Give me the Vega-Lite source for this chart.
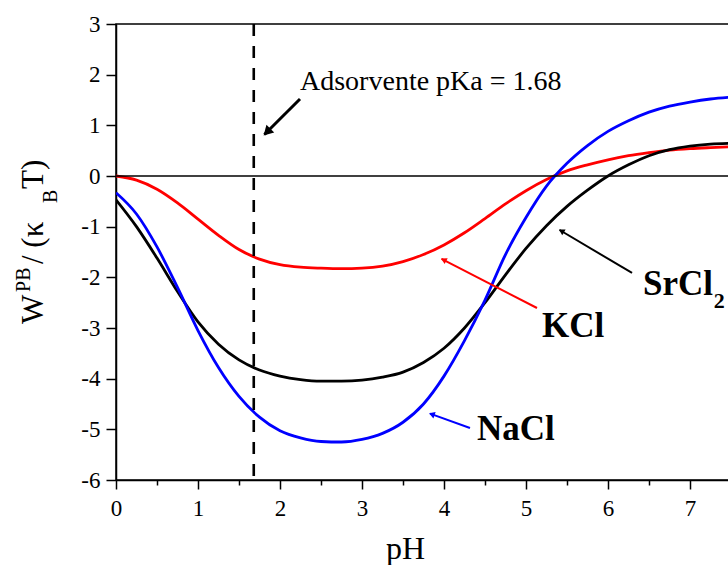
{
  "$schema": "https://vega.github.io/schema/vega-lite/v6.json",
  "width": 620,
  "height": 456,
  "autosize": {"type": "none"},
  "padding": {"left": 116, "top": 24, "right": 0, "bottom": 85},
  "config": {
    "view": {"stroke": "black", "strokeWidth": 1.5},
    "font": "Liberation Serif",
    "text": {"font": "Liberation Serif"},
    "axis": {
      "labelFont": "Liberation Serif", "labelFontSize": 23, "labelColor": "black",
      "titleFont": "Liberation Serif", "titleFontSize": 32, "titleFontWeight": "normal", "titleColor": "black",
      "grid": false, "tickColor": "black", "tickWidth": 1.5, "domainColor": "black", "domainWidth": 1.5,
      "labelOverlap": false, "labelFlush": false
    }
  },
  "datasets": {
    "curves": [
      {"salt": "KCl", "pH": 0, "W": 0.0},
      {"salt": "KCl", "pH": 0.25, "W": -0.08},
      {"salt": "KCl", "pH": 0.5, "W": -0.26},
      {"salt": "KCl", "pH": 0.75, "W": -0.53},
      {"salt": "KCl", "pH": 1.0, "W": -0.85},
      {"salt": "KCl", "pH": 1.25, "W": -1.17},
      {"salt": "KCl", "pH": 1.5, "W": -1.45},
      {"salt": "KCl", "pH": 1.75, "W": -1.64},
      {"salt": "KCl", "pH": 2.0, "W": -1.75},
      {"salt": "KCl", "pH": 2.25, "W": -1.8},
      {"salt": "KCl", "pH": 2.5, "W": -1.82},
      {"salt": "KCl", "pH": 2.75, "W": -1.83},
      {"salt": "KCl", "pH": 3.0, "W": -1.82},
      {"salt": "KCl", "pH": 3.25, "W": -1.78},
      {"salt": "KCl", "pH": 3.5, "W": -1.69},
      {"salt": "KCl", "pH": 3.75, "W": -1.55},
      {"salt": "KCl", "pH": 4.0, "W": -1.36},
      {"salt": "KCl", "pH": 4.25, "W": -1.12},
      {"salt": "KCl", "pH": 4.5, "W": -0.84},
      {"salt": "KCl", "pH": 4.75, "W": -0.55},
      {"salt": "KCl", "pH": 5.0, "W": -0.29},
      {"salt": "KCl", "pH": 5.25, "W": -0.07},
      {"salt": "KCl", "pH": 5.5, "W": 0.1},
      {"salt": "KCl", "pH": 5.75, "W": 0.22},
      {"salt": "KCl", "pH": 6.0, "W": 0.32},
      {"salt": "KCl", "pH": 6.25, "W": 0.4},
      {"salt": "KCl", "pH": 6.5, "W": 0.46},
      {"salt": "KCl", "pH": 6.75, "W": 0.51},
      {"salt": "KCl", "pH": 7.0, "W": 0.54},
      {"salt": "KCl", "pH": 7.25, "W": 0.56},
      {"salt": "KCl", "pH": 7.56, "W": 0.58},
      {"salt": "SrCl2", "pH": 0, "W": -0.47},
      {"salt": "SrCl2", "pH": 0.25, "W": -1.0},
      {"salt": "SrCl2", "pH": 0.5, "W": -1.62},
      {"salt": "SrCl2", "pH": 0.75, "W": -2.28},
      {"salt": "SrCl2", "pH": 1.0, "W": -2.88},
      {"salt": "SrCl2", "pH": 1.25, "W": -3.32},
      {"salt": "SrCl2", "pH": 1.5, "W": -3.63},
      {"salt": "SrCl2", "pH": 1.75, "W": -3.83},
      {"salt": "SrCl2", "pH": 2.0, "W": -3.95},
      {"salt": "SrCl2", "pH": 2.25, "W": -4.02},
      {"salt": "SrCl2", "pH": 2.5, "W": -4.05},
      {"salt": "SrCl2", "pH": 2.75, "W": -4.05},
      {"salt": "SrCl2", "pH": 3.0, "W": -4.03},
      {"salt": "SrCl2", "pH": 3.25, "W": -3.97},
      {"salt": "SrCl2", "pH": 3.5, "W": -3.87},
      {"salt": "SrCl2", "pH": 3.75, "W": -3.68},
      {"salt": "SrCl2", "pH": 4.0, "W": -3.4},
      {"salt": "SrCl2", "pH": 4.25, "W": -3.0},
      {"salt": "SrCl2", "pH": 4.5, "W": -2.5},
      {"salt": "SrCl2", "pH": 4.75, "W": -1.95},
      {"salt": "SrCl2", "pH": 5.0, "W": -1.43},
      {"salt": "SrCl2", "pH": 5.25, "W": -0.98},
      {"salt": "SrCl2", "pH": 5.5, "W": -0.6},
      {"salt": "SrCl2", "pH": 5.75, "W": -0.28},
      {"salt": "SrCl2", "pH": 6.0, "W": 0.0},
      {"salt": "SrCl2", "pH": 6.25, "W": 0.22},
      {"salt": "SrCl2", "pH": 6.5, "W": 0.4},
      {"salt": "SrCl2", "pH": 6.75, "W": 0.52},
      {"salt": "SrCl2", "pH": 7.0, "W": 0.59},
      {"salt": "SrCl2", "pH": 7.25, "W": 0.63},
      {"salt": "SrCl2", "pH": 7.56, "W": 0.65},
      {"salt": "NaCl", "pH": 0, "W": -0.33},
      {"salt": "NaCl", "pH": 0.25, "W": -0.75},
      {"salt": "NaCl", "pH": 0.5, "W": -1.4},
      {"salt": "NaCl", "pH": 0.75, "W": -2.2},
      {"salt": "NaCl", "pH": 1.0, "W": -3.05},
      {"salt": "NaCl", "pH": 1.25, "W": -3.78},
      {"salt": "NaCl", "pH": 1.5, "W": -4.35},
      {"salt": "NaCl", "pH": 1.75, "W": -4.76},
      {"salt": "NaCl", "pH": 2.0, "W": -5.03},
      {"salt": "NaCl", "pH": 2.25, "W": -5.17},
      {"salt": "NaCl", "pH": 2.5, "W": -5.24},
      {"salt": "NaCl", "pH": 2.75, "W": -5.25},
      {"salt": "NaCl", "pH": 3.0, "W": -5.2},
      {"salt": "NaCl", "pH": 3.25, "W": -5.08},
      {"salt": "NaCl", "pH": 3.5, "W": -4.86},
      {"salt": "NaCl", "pH": 3.75, "W": -4.5},
      {"salt": "NaCl", "pH": 4.0, "W": -3.95},
      {"salt": "NaCl", "pH": 4.25, "W": -3.25},
      {"salt": "NaCl", "pH": 4.5, "W": -2.45},
      {"salt": "NaCl", "pH": 4.75, "W": -1.55},
      {"salt": "NaCl", "pH": 5.0, "W": -0.82},
      {"salt": "NaCl", "pH": 5.25, "W": -0.2},
      {"salt": "NaCl", "pH": 5.5, "W": 0.25},
      {"salt": "NaCl", "pH": 5.75, "W": 0.6},
      {"salt": "NaCl", "pH": 6.0, "W": 0.88},
      {"salt": "NaCl", "pH": 6.25, "W": 1.09},
      {"salt": "NaCl", "pH": 6.5, "W": 1.26},
      {"salt": "NaCl", "pH": 6.75, "W": 1.38},
      {"salt": "NaCl", "pH": 7.0, "W": 1.46},
      {"salt": "NaCl", "pH": 7.25, "W": 1.52},
      {"salt": "NaCl", "pH": 7.56, "W": 1.56}
    ],
    "arrows": [
      {"name": "pKa", "x": 2.244, "y": 1.52, "x2": 1.81, "y2": 0.82, "hx": 1.841, "hy": 0.868},
      {"name": "SrCl2", "x": 6.293, "y": -1.914, "x2": 5.41, "y2": -1.066, "hx": 5.432, "hy": -1.085},
      {"name": "KCl", "x": 5.134, "y": -2.605, "x2": 3.97, "y2": -1.635, "hx": 3.995, "hy": -1.654},
      {"name": "NaCl", "x": 4.317, "y": -4.973, "x2": 3.83, "y2": -4.69, "hx": 3.851, "hy": -4.703}
    ],
    "bigLabels": [
      {"name": "SrCl2", "x": 6.427, "y": -2.349, "text": "SrCl"},
      {"name": "KCl", "x": 5.195, "y": -3.177, "text": "KCl"},
      {"name": "NaCl", "x": 4.402, "y": -5.21, "text": "NaCl"}
    ],
    "titleBig": [
      {"x": -0.89, "y": -2.921, "text": "W"},
      {"x": -0.89, "y": -1.737, "text": "/ (κ"},
      {"x": -0.89, "y": -0.257, "text": "T)"}
    ],
    "titleSmall": [
      {"x": -1.049, "y": -2.289, "text": "PB"},
      {"x": -0.72, "y": -0.533, "text": "B"}
    ]
  },
  "layer": [
    {
      "data": {"name": "curves"},
      "mark": {"type": "line", "strokeWidth": 2.8, "interpolate": "monotone", "clip": true},
      "encoding": {
        "x": {
          "field": "pH", "type": "quantitative",
          "scale": {"domain": [0, 7.561], "nice": false, "zero": false},
          "axis": {
            "values": [0, 0.5, 1, 1.5, 2, 2.5, 3, 3.5, 4, 4.5, 5, 5.5, 6, 6.5, 7, 7.5],
            "labelExpr": "datum.value % 1 === 0 ? '' + datum.value : ''",
            "labelFont": "Liberation Serif", "labelFontSize": 23,
            "labelPadding": 8,
            "tickSize": {"condition": {"test": "datum.value % 1 === 0", "value": 9}, "value": 5},
            "title": "pH", "titleFont": "Liberation Serif", "titleFontSize": 32,
            "titleX": 289, "titleY": 78, "titleAlign": "center", "titleBaseline": "alphabetic",
            "encode": {
              "labels": {"update": {"font": {"value": "Liberation Serif"}, "fontSize": {"value": 23}}},
              "title": {"update": {"font": {"value": "Liberation Serif"}, "fontSize": {"value": 32}}}
            }
          }
        },
        "y": {
          "field": "W", "type": "quantitative",
          "scale": {"domain": [-6, 3], "nice": false, "zero": false},
          "axis": {
            "values": [-6, -5.5, -5, -4.5, -4, -3.5, -3, -2.5, -2, -1.5, -1, -0.5, 0, 0.5, 1, 1.5, 2, 2.5, 3],
            "labelExpr": "datum.value % 1 === 0 ? '' + datum.value : ''",
            "labelFont": "Liberation Serif", "labelFontSize": 23,
            "labelPadding": 6,
            "tickSize": {"condition": {"test": "datum.value % 1 === 0", "value": 10}, "value": 5},
            "title": null,
            "encode": {
              "labels": {"update": {"font": {"value": "Liberation Serif"}, "fontSize": {"value": 23}}}
            }
          }
        },
        "color": {
          "field": "salt", "type": "nominal",
          "scale": {"domain": ["KCl", "NaCl", "SrCl2"], "range": ["#ff0000", "#0000ff", "#000000"]},
          "legend": null
        }
      }
    },
    {
      "data": {"values": [{"zero": 0}]},
      "mark": {"type": "rule", "color": "black", "strokeWidth": 1.5},
      "encoding": {"y": {"field": "zero", "type": "quantitative"}}
    },
    {
      "data": {"values": [{"pKa": 1.68}]},
      "mark": {"type": "rule", "color": "black", "strokeWidth": 2.6, "strokeDash": [12, 10]},
      "encoding": {"x": {"field": "pKa", "type": "quantitative"}}
    },
    {
      "data": {"name": "arrows"},
      "transform": [{"filter": "datum.name === 'pKa'"}],
      "mark": {"type": "rule", "strokeWidth": 3, "color": "black"},
      "encoding": {
        "x": {"field": "x", "type": "quantitative"},
        "y": {"field": "y", "type": "quantitative"},
        "x2": {"field": "x2"},
        "y2": {"field": "y2"}
      }
    },
    {
      "data": {"name": "arrows"},
      "transform": [{"filter": "datum.name === 'SrCl2'"}],
      "mark": {"type": "rule", "strokeWidth": 2, "color": "black"},
      "encoding": {
        "x": {"field": "x", "type": "quantitative"},
        "y": {"field": "y", "type": "quantitative"},
        "x2": {"field": "x2"},
        "y2": {"field": "y2"}
      }
    },
    {
      "data": {"name": "arrows"},
      "transform": [{"filter": "datum.name === 'KCl'"}],
      "mark": {"type": "rule", "strokeWidth": 2, "color": "#ff0000"},
      "encoding": {
        "x": {"field": "x", "type": "quantitative"},
        "y": {"field": "y", "type": "quantitative"},
        "x2": {"field": "x2"},
        "y2": {"field": "y2"}
      }
    },
    {
      "data": {"name": "arrows"},
      "transform": [{"filter": "datum.name === 'NaCl'"}],
      "mark": {"type": "rule", "strokeWidth": 2, "color": "#0000ff"},
      "encoding": {
        "x": {"field": "x", "type": "quantitative"},
        "y": {"field": "y", "type": "quantitative"},
        "x2": {"field": "x2"},
        "y2": {"field": "y2"}
      }
    },
    {
      "data": {"name": "arrows"},
      "transform": [{"filter": "datum.name === 'pKa'"}],
      "mark": {"type": "point", "shape": "triangle-up", "filled": true, "size": 120, "angle": 225, "color": "black", "opacity": 1},
      "encoding": {
        "x": {"field": "hx", "type": "quantitative"},
        "y": {"field": "hy", "type": "quantitative"}
      }
    },
    {
      "data": {"name": "arrows"},
      "transform": [{"filter": "datum.name === 'SrCl2'"}],
      "mark": {"type": "point", "shape": "triangle-up", "filled": true, "size": 45, "angle": 300.7, "color": "black", "opacity": 1},
      "encoding": {
        "x": {"field": "hx", "type": "quantitative"},
        "y": {"field": "hy", "type": "quantitative"}
      }
    },
    {
      "data": {"name": "arrows"},
      "transform": [{"filter": "datum.name === 'KCl'"}],
      "mark": {"type": "point", "shape": "triangle-up", "filled": true, "size": 45, "angle": 297.3, "color": "#ff0000", "opacity": 1},
      "encoding": {
        "x": {"field": "hx", "type": "quantitative"},
        "y": {"field": "hy", "type": "quantitative"}
      }
    },
    {
      "data": {"name": "arrows"},
      "transform": [{"filter": "datum.name === 'NaCl'"}],
      "mark": {"type": "point", "shape": "triangle-up", "filled": true, "size": 45, "angle": 289.6, "color": "#0000ff", "opacity": 1},
      "encoding": {
        "x": {"field": "hx", "type": "quantitative"},
        "y": {"field": "hy", "type": "quantitative"}
      }
    },
    {
      "data": {"values": [{"x": 2.244, "y": 1.697, "text": "Adsorvente pKa = 1.68"}]},
      "mark": {"type": "text", "font": "Liberation Serif", "fontSize": 28, "align": "left", "baseline": "alphabetic", "color": "black"},
      "encoding": {
        "x": {"field": "x", "type": "quantitative"},
        "y": {"field": "y", "type": "quantitative"},
        "text": {"field": "text"}
      }
    },
    {
      "data": {"name": "bigLabels"},
      "mark": {"type": "text", "font": "Liberation Serif", "fontSize": 35, "fontWeight": "bold", "align": "left", "baseline": "alphabetic", "color": "black"},
      "encoding": {
        "x": {"field": "x", "type": "quantitative"},
        "y": {"field": "y", "type": "quantitative"},
        "text": {"field": "text"}
      }
    },
    {
      "data": {"values": [{"x": 7.29, "y": -2.605, "text": "2"}]},
      "mark": {"type": "text", "font": "Liberation Serif", "fontSize": 22, "fontWeight": "bold", "align": "left", "baseline": "alphabetic", "color": "black"},
      "encoding": {
        "x": {"field": "x", "type": "quantitative"},
        "y": {"field": "y", "type": "quantitative"},
        "text": {"field": "text"}
      }
    },
    {
      "data": {"name": "titleBig"},
      "mark": {"type": "text", "font": "Liberation Serif", "fontSize": 31, "angle": 270, "align": "left", "baseline": "alphabetic", "color": "black"},
      "encoding": {
        "x": {"field": "x", "type": "quantitative"},
        "y": {"field": "y", "type": "quantitative"},
        "text": {"field": "text"}
      }
    },
    {
      "data": {"name": "titleSmall"},
      "mark": {"type": "text", "font": "Liberation Serif", "fontSize": 20, "angle": 270, "align": "left", "baseline": "alphabetic", "color": "black"},
      "encoding": {
        "x": {"field": "x", "type": "quantitative"},
        "y": {"field": "y", "type": "quantitative"},
        "text": {"field": "text"}
      }
    }
  ]
}
